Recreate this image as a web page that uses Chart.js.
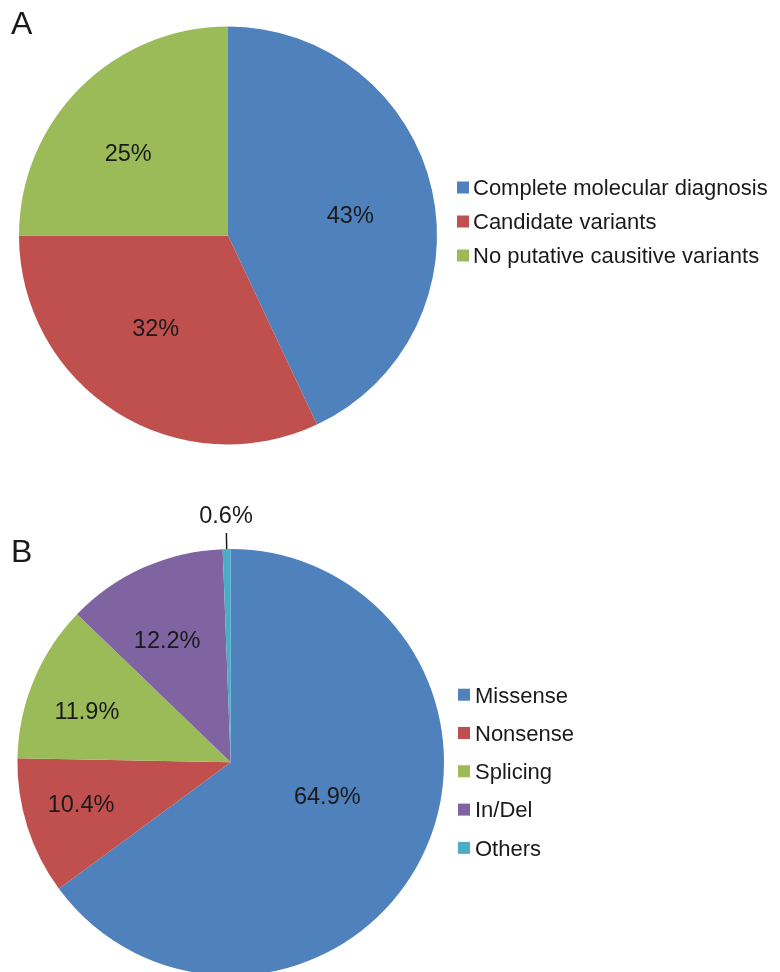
<!DOCTYPE html>
<html>
<head>
<meta charset="utf-8">
<script src="https://cdn.jsdelivr.net/npm/chart.js@4.4.1/dist/chart.umd.min.js"></script>
<style>
  html, body { margin: 0; padding: 0; background: #ffffff; overflow: hidden; width: 780px; height: 972px; }
  canvas { position: absolute; left: 0; display: block; }
</style>
</head>
<body>
<canvas id="pieA" width="780" height="470" style="top:0"></canvas>
<canvas id="pieB" width="780" height="520" style="top:470px"></canvas>
<script>
// Panel A: diagnostic outcome
const labelsA = ['Complete molecular diagnosis', 'Candidate variants', 'No putative causitive variants'];
const valuesA = [43, 32, 25];
const coloursA = ['#4F81BD', '#C0504D', '#9BBB59'];

// Panel B: variant types
const labelsB = ['Missense', 'Nonsense', 'Splicing', 'In/Del', 'Others'];
const valuesB = [64.9, 10.4, 11.9, 12.2, 0.6];
const coloursB = ['#4F81BD', '#C0504D', '#9BBB59', '#8064A2', '#4BACC6'];

const FONT = '"Liberation Sans", Arial, Helvetica, sans-serif';
const INK = '#1a1a1a';

// Percentage labels placed along each slice's mid-angle (slightly flattened vertically);
// tiny slices get an outside label with a leader line
const sliceLabels = {
  id: 'sliceLabels',
  afterDatasetsDraw(chart, args, opts) {
    const ctx = chart.ctx;
    const meta = chart.getDatasetMeta(0);
    const values = chart.data.datasets[0].data;
    const total = values.reduce((a, b) => a + b, 0);
    ctx.save();
    ctx.font = opts.size + 'px ' + FONT;
    ctx.fillStyle = INK;
    ctx.strokeStyle = INK;
    ctx.textAlign = 'center';
    ctx.textBaseline = 'alphabetic';
    const capHalf = opts.size * 0.358;
    meta.data.forEach((arc, i) => {
      const p = arc.getProps(['x', 'y', 'startAngle', 'endAngle', 'outerRadius'], true);
      const mid = (p.startAngle + p.endAngle) / 2;
      const share = values[i] / total;
      const text = opts.format(values[i]);
      const cos = Math.cos(mid), sin = Math.sin(mid);
      if (share < 0.02) {
        const r0 = p.outerRadius, r1 = p.outerRadius + 16;
        ctx.lineWidth = 1.5;
        ctx.beginPath();
        ctx.moveTo(p.x + cos * r0, p.y + sin * r0);
        ctx.lineTo(p.x + cos * r1, p.y + sin * r1);
        ctx.stroke();
        const rt = p.outerRadius + 34;
        ctx.fillText(text, p.x + cos * rt, p.y + sin * rt + capHalf);
      } else {
        const rx = p.outerRadius * (0.78 - 0.42 * share);
        const ry = p.outerRadius * (0.70 - 0.55 * share);
        ctx.fillText(text, p.x + cos * rx, p.y + sin * ry + capHalf);
      }
    });
    ctx.restore();
  }
};

// Square-marker legend to the right of the pie, plus the panel letter
const sideLegend = {
  id: 'sideLegend',
  afterDraw(chart, args, opts) {
    const ctx = chart.ctx;
    const ds = chart.data.datasets[0];
    ctx.save();
    ctx.textAlign = 'left';
    ctx.textBaseline = 'alphabetic';
    ctx.font = opts.size + 'px ' + FONT;
    chart.data.labels.forEach((lab, i) => {
      const cy = opts.top + i * opts.step;
      ctx.fillStyle = ds.backgroundColor[i];
      ctx.fillRect(opts.x, cy - opts.box / 2, opts.box, opts.box);
      ctx.fillStyle = INK;
      ctx.fillText(lab, opts.x + opts.box + opts.gap, cy + opts.size * 0.358);
    });
    ctx.font = '32px ' + FONT;
    ctx.fillStyle = INK;
    ctx.fillText(opts.tag, opts.tagX, opts.tagY);
    ctx.restore();
  }
};

function makePie(id, labels, values, colours, padding, fmt, legend) {
  return new Chart(document.getElementById(id), {
    type: 'pie',
    data: {
      labels: labels,
      datasets: [{
        data: values,
        backgroundColor: colours,
        borderWidth: 0
      }]
    },
    options: {
      responsive: false,
      animation: false,
      layout: { padding: padding },
      plugins: {
        legend: { display: false },
        tooltip: { enabled: false },
        sliceLabels: { size: 23.5, format: fmt },
        sideLegend: legend
      }
    },
    plugins: [sliceLabels, sideLegend]
  });
}

makePie('pieA', labelsA, valuesA, coloursA,
  { left: 19, top: 26.5, right: 343, bottom: 25.5 },
  v => v + '%',
  { x: 457, top: 187.5, step: 34, box: 12, gap: 4, size: 22, tag: 'A', tagX: 11, tagY: 34.3 });

makePie('pieB', labelsB, valuesB, coloursB,
  { left: 17.4, top: 79, right: 336, bottom: 14.4 },
  v => v.toFixed(1) + '%',
  { x: 458, top: 224.7, step: 38.3, box: 12, gap: 5, size: 22, tag: 'B', tagX: 11, tagY: 91.7 });
</script>
</body>
</html>
